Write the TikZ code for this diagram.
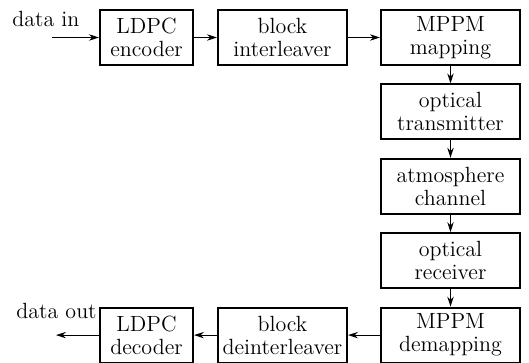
\documentclass[tikz,border=0pt]{standalone}
\usetikzlibrary{arrows.meta,positioning}
\tikzset{
    blk/.style={draw, line width=1pt, align=center, minimum height=27.5pt,
      inner sep=1pt, font=\fontsize{11}{11.5}\selectfont},
    arr/.style={-{Stealth[length=5pt,width=3.2pt]}, line width=0.6pt},
    lbl/.style={font=\fontsize{11}{12}\selectfont, inner sep=0pt}
}

\begin{document}
\begin{tikzpicture}[x=0.5pt,y=-0.5pt]
\useasboundingbox (0,0) rectangle (529,363);

% Nodes
\node[blk, minimum width=46.5pt] (enc) at (146.5,37.5) {LDPC\\encoder};
\node[blk, minimum width=64.5pt, right=11.5pt of enc] (intl) {block\\interleaver};
\node[blk, minimum width=69.5pt, right=16pt of intl] (map) {MPPM\\mapping};
\node[blk, minimum width=69.5pt, below=8.7pt of map] (tx) {optical\\transmitter};
\node[blk, minimum width=69.5pt, below=8.7pt of tx] (chan) {atmosphere\\channel};
\node[blk, minimum width=69.5pt, below=8.7pt of chan] (rx) {optical\\receiver};
\node[blk, minimum width=69.5pt, below=8.7pt of rx] (demap) {MPPM\\demapping};
\node[blk, minimum width=64.5pt, left=16pt of demap] (deintl) {block\\deinterleaver};
\node[blk, minimum width=46.5pt, left=11.5pt of deintl] (dec) {LDPC\\decoder};

% Labels
\node[lbl, anchor=west] (din) at (12,19) {data in};
\node[lbl, anchor=west] (dout) at (16,311) {data out};
\coordinate[left=23.5pt of enc.west] (inpt);
\coordinate[left=21.5pt of dec.west] (outpt);

% Paths
\draw[arr] (inpt) -- (enc.west);
\draw[arr] (enc) -- (intl);
\draw[arr] (intl) -- (map);
\draw[arr] (map) -- (tx);
\draw[arr] (tx) -- (chan);
\draw[arr] (chan) -- (rx);
\draw[arr] (rx) -- (demap);
\draw[arr] (demap) -- (deintl);
\draw[arr] (deintl) -- (dec);
\draw[arr] (dec.west) -- (outpt);

\end{tikzpicture}
\end{document}
